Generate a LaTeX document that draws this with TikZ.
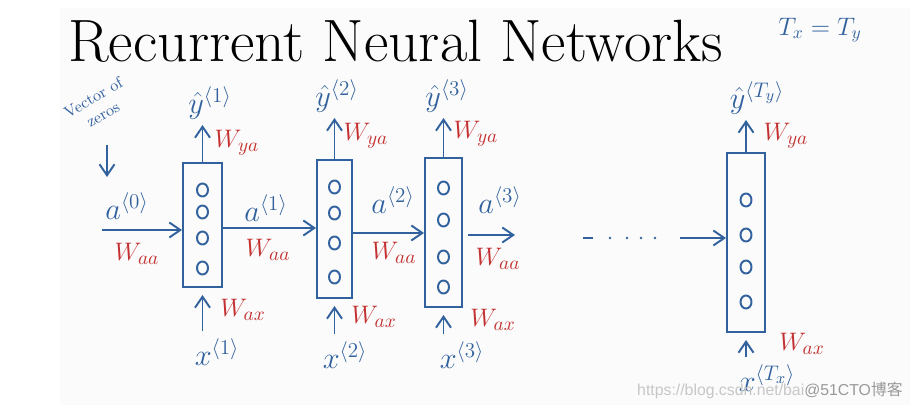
\documentclass[tikz,border=0pt]{standalone}
\usepackage{amsmath, amssymb}
\usepackage{fontspec}
\newfontfamily\cjk{Noto Sans CJK SC}
\newfontfamily\marksans{Liberation Sans}
\usetikzlibrary{arrows.meta, positioning, calc}
\definecolor{penblue}{RGB}{50,98,158}
\definecolor{penred}{RGB}{196,48,48}

\begin{document}
\begin{tikzpicture}[x=0.2mm, y=-0.2mm,
      cell/.style={rectangle, draw=penblue, line width=1.1pt, inner sep=0pt},
      arr/.style={-{Straight Barb[length=2.2mm, width=3mm]}, draw=penblue, line width=1.1pt},
      hand/.style={text=penblue, inner sep=1pt, font=\fontsize{18}{20}\selectfont},
      weight/.style={text=penred, inner sep=1pt, font=\fontsize{15}{16}\selectfont}]

      \useasboundingbox (0,0) rectangle (914,411);
      \fill[black!1.5] (60,8) rectangle (910,405);

      \node[anchor=base west, inner sep=0pt, font=\fontsize{34}{38}\selectfont] (title) at (68,62) {Recurrent Neural Networks};
      \node[hand, font=\fontsize{14}{16}\selectfont] (txty) at (820,30) {$T_x = T_y$};

      % Cells
      \node[cell, minimum width=0.78cm, minimum height=2.48cm] (c1) at (202.5,225) {};
      \node[cell, minimum width=0.70cm, minimum height=2.76cm] (c2) at (334.5,229) {};
      \node[cell, minimum width=0.74cm, minimum height=2.98cm] (c3) at (443.5,232.5) {};
      \node[cell, minimum width=0.76cm, minimum height=3.58cm] (cT) at (746,242.5) {};

      % Units inside the cells
      \foreach \c/\ya/\yb/\yc/\yd in {c1/190/212/238/268, c2/187/213/243/277, c3/188/220/257/287, cT/200/235/267/302} {
        \foreach \y in {\ya,\yb,\yc,\yd} {
          \draw[penblue, line width=1.1pt] (\c |- 0,\y) ellipse [x radius=0.11cm, y radius=0.13cm];
        }
      }

      % Activations
      \node[hand, rotate=30, align=center, font=\fontsize{9}{11}\selectfont] (zeros) at (98,106) {Vector of\\zeros};
      \coordinate (zerosend) at (107,145);
      \draw[arr] (zerosend) -- ++(0,32);

      \node[hand] (a0) at (127,206) {$a^{\langle 0\rangle}$};
      \node[hand] (a1) at (266,208) {$a^{\langle 1\rangle}$};
      \node[hand] (a2) at (393,200) {$a^{\langle 2\rangle}$};
      \node[hand] (a3) at (500,200) {$a^{\langle 3\rangle}$};

      \coordinate (a0start) at (102,230);
      \coordinate (a3end) at (515,235);
      \coordinate (dotsstart) at (583,238);
      \coordinate (dotsend) at (680,238);

      % Arrows
      \draw[arr] (a0start) -- (a0start -| c1.west);
      \draw[arr] (c1.east |- 0,228) -- (c2.west |- 0,228);
      \draw[arr] (c2.east |- 0,233) -- (c3.west |- 0,233);
      \draw[arr, shorten <=3pt] (c3.east |- a3end) -- (a3end);
      \draw[penblue, line width=1.1pt] (dotsstart) -- ++(10,0);
      \foreach \x in {610,627,641,655} {
        \fill[penblue] (\x,238) circle [radius=0.8pt];
      }
      \draw[arr] (dotsend) -- (dotsend -| cT.west);

      \node[weight] (waa0) at (137,254) {$W_{aa}$};
      \node[weight] (waa1) at (268,250) {$W_{aa}$};
      \node[weight] (waa2) at (394,253) {$W_{aa}$};
      \node[weight] (waa3) at (498,259) {$W_{aa}$};

      % Outputs
      \node[hand] (yh1) at (210,103) {$\hat{y}^{\langle 1\rangle}$};
      \node[hand] (yh2) at (337,96) {$\hat{y}^{\langle 2\rangle}$};
      \node[hand] (yh3) at (447,96) {$\hat{y}^{\langle 3\rangle}$};
      \node[hand] (yhT) at (757,98) {$\hat{y}^{\langle T_y\rangle}$};

      \foreach \c/\y in {c1/yh1, c2/yh2, c3/yh3, cT/yhT} {
        \draw[arr, shorten >=2pt] (\c.north) -- (\c.north |- \y.south);
      }

      \node[weight] (wya1) at (237,143) {$W_{ya}$};
      \node[weight] (wya2) at (366,136) {$W_{ya}$};
      \node[weight] (wya3) at (476,134) {$W_{ya}$};
      \node[weight] (wyaT) at (786,136) {$W_{ya}$};

      % Inputs
      \node[hand] (x1) at (217,352) {$x^{\langle 1\rangle}$};
      \node[hand] (x2) at (345,355) {$x^{\langle 2\rangle}$};
      \node[hand] (x3) at (462,355) {$x^{\langle 3\rangle}$};
      \node[hand] (xT) at (767,378) {$x^{\langle T_x\rangle}$};

      \foreach \c/\x in {c1/x1, c2/x2, c3/x3, cT/xT} {
        \draw[arr, shorten <=3pt, shorten >=4pt] (\c.south |- \x.north) -- (\c.south);
      }

      \node[weight] (wax1) at (243,310) {$W_{ax}$};
      \node[weight] (wax2) at (374,317) {$W_{ax}$};
      \node[weight] (wax3) at (493,320) {$W_{ax}$};
      \node[weight] (waxT) at (802,344) {$W_{ax}$};

      \node[anchor=base east, inner sep=0pt, font=\marksans\fontsize{9}{10}\selectfont, text=black!22] (mark) at (903,395)
        {https://blog.csdn.net/bai\textcolor{black!40}{@51CTO{\cjk 博客}}};
    \end{tikzpicture}
\end{document}
